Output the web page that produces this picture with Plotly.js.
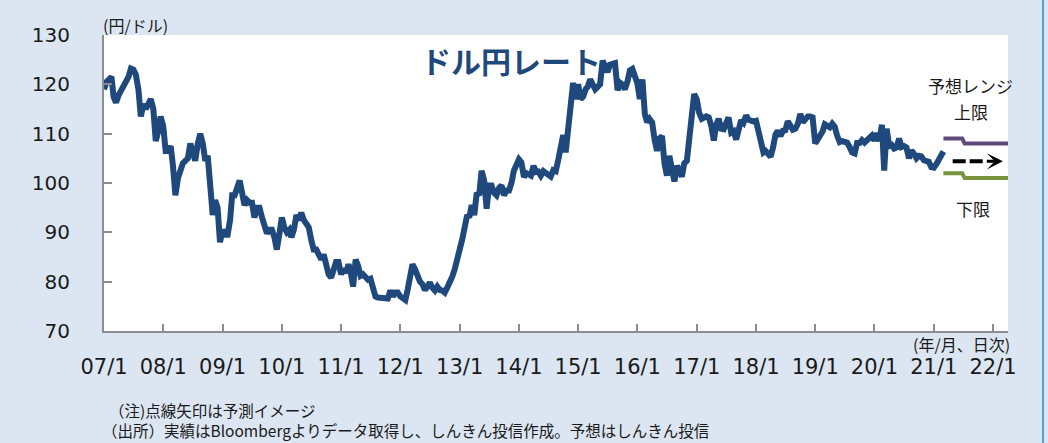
<!DOCTYPE html>
<html>
<head>
<meta charset="utf-8">
<script src="https://cdn.plot.ly/plotly-3.0.1.min.js"></script>
<style>
  html, body { margin: 0; padding: 0; background: #dce6f2; }
  #wrap { width: 1048px; height: 443px; position: relative; background: #dce6f2; }
  #chart { width: 1042px; height: 443px; border-right: 2px solid #4ba3cf; box-sizing: content-box; }
</style>
</head>
<body>
<div id="wrap"><div id="chart"></div></div>
<script>
const fx2007 = [119.0,120.5,121.0,121.5,117.5,116.3,117.8,118.8,119.8,120.5,121.5,123.2,123.0,122.0,119.0,113.5,116.0,115.0,116.0,117.0,115.0,108.5,110.5,113.5];
const fx2008 = [111.5,106.5,106.5,107.5,103.5,97.5,101.0,102.5,104.0,104.5,105.0,108.0,106.0,104.5,108.0,110.0,108.0,104.5,105.5,100.0,93.5,96.5,95.0,88.0];
const fx2009 = [90.5,89.5,89.5,92.5,97.5,97.5,99.0,100.5,98.0,95.5,96.5,96.0,96.0,93.0,95.0,95.0,93.0,91.0,89.8,90.5,90.5,89.0,86.5,89.5];
const fx2010 = [93.0,91.0,90.0,90.5,89.0,90.5,93.5,92.5,94.0,92.5,91.5,91.0,88.5,86.5,86.5,85.5,84.5,85.5,83.5,81.5,80.8,82.5,84.0,84.0];
const fx2011 = [81.5,82.6,81.8,83.5,82.0,79.0,84.5,83.2,81.2,81.5,80.8,80.4,80.6,79.0,77.0,76.8,76.8,76.7,76.8,76.6,78.2,77.0,77.8,77.8];
const fx2012 = [77.0,76.8,76.3,78.5,81.0,83.5,82.5,80.8,80.0,79.5,78.3,79.0,79.8,78.8,78.2,79.0,78.3,78.2,77.8,78.8,79.8,81.0,82.5,84.0];
const fx2013 = [86.5,88.5,91.5,93.5,93.0,95.5,93.5,98.0,97.5,102.5,100.5,94.8,99.5,99.5,98.0,97.5,99.0,99.5,97.5,98.5,98.5,100.0,102.5,103.5];
const fx2014 = [104.8,104.2,101.2,102.0,101.8,101.5,103.5,102.2,102.3,101.5,102.4,102.0,101.5,101.3,102.6,102.4,104.8,107.2,109.7,106.2,112.3,116.5,120.3,117.0];
const fx2015 = [120.0,117.0,117.5,119.0,119.5,121.0,120.0,119.0,119.5,120.0,124.8,123.4,122.5,124.0,124.0,124.3,118.8,120.3,119.9,119.0,120.6,122.8,123.1,121.8];
const fx2016 = [120.2,117.0,121.0,114.0,112.3,113.0,112.3,108.8,106.5,109.0,109.5,104.0,101.5,105.5,102.5,100.3,103.5,102.0,101.3,104.0,104.5,109.0,114.2,118.0];
const fx2017 = [117.0,114.2,113.0,113.3,113.5,113.3,111.5,108.6,111.8,113.0,111.0,110.9,112.5,113.3,110.2,110.5,108.8,111.0,112.7,112.2,113.7,112.8,112.5,112.5];
const fx2018 = [112.6,110.5,109.2,106.2,106.5,105.8,105.3,107.2,109.8,110.6,109.5,110.6,110.7,112.5,111.8,110.8,111.0,112.0,114.0,112.3,112.9,113.5,113.5,113.3];
const fx2019 = [108.0,108.7,109.5,110.5,111.9,111.5,111.3,112.0,111.4,109.6,108.3,108.5,108.4,108.2,107.3,106.2,106.0,108.1,108.1,108.7,108.2,108.7,109.5,109.6];
const fx2020 = [108.6,110.1,108.5,111.8,102.5,111.0,107.5,107.7,107.0,107.2,109.0,107.3,107.5,107.2,105.0,106.6,105.9,105.0,105.5,105.4,104.6,104.6,104.3,103.2];
const fx2021 = [103.1,103.8,104.8,105.5,106.4];

const seriesByYear = [[2007,fx2007],[2008,fx2008],[2009,fx2009],[2010,fx2010],[2011,fx2011],[2012,fx2012],[2013,fx2013],[2014,fx2014],[2015,fx2015],[2016,fx2016],[2017,fx2017],[2018,fx2018],[2019,fx2019],[2020,fx2020],[2021,fx2021]];

// Forecast range (予想レンジ)
const fcDates  = ['2021-03-01','2021-06-25','2021-07-10','2022-04-03'];
const upperVals = [109,109,108,108];
const lowerVals = [102,102,101,101];
const arrowDates = ['2021-04-27','2021-11-14','2022-03-03'];
const arrowVals  = [104.4,104.4,104.4];

// Axis ticks
const tickYears = [2007,2008,2009,2010,2011,2012,2013,2014,2015,2016,2017,2018,2019,2020,2021,2022];
const tickLabels = ['07/1','08/1','09/1','10/1','11/1','12/1','13/1','14/1','15/1','16/1','17/1','18/1','19/1','20/1','21/1','22/1'];

const xs = [], ys = [];
seriesByYear.forEach(([yr, arr]) => {
  arr.forEach((v, i) => {
    const m = Math.floor(i / 2) + 1;
    const d = (i % 2) ? '16' : '01';
    xs.push(yr + '-' + String(m).padStart(2, '0') + '-' + d);
    ys.push(v);
  });
});

const jp = '"Noto Sans CJK JP", "DejaVu Sans", sans-serif';
const num = '"DejaVu Sans", sans-serif';

const traces = [
  { x: xs, y: ys, type: 'scatter', mode: 'lines',
    line: { color: '#1f497d', width: 6 }, hoverinfo: 'skip' },
  { x: fcDates, y: upperVals, type: 'scatter', mode: 'lines',
    line: { color: '#604a7b', width: 4 }, hoverinfo: 'skip' },
  { x: fcDates, y: lowerVals, type: 'scatter', mode: 'lines',
    line: { color: '#77933c', width: 4 }, hoverinfo: 'skip' },
  { x: arrowDates.slice(0, 2), y: arrowVals.slice(0, 2), type: 'scatter', mode: 'lines',
    line: { color: '#000000', width: 4, dash: '13px,4px' }, hoverinfo: 'skip' }
];

const layout = {
  width: 1042, height: 443,
  margin: { l: 104, r: 34, t: 35, b: 112 },
  paper_bgcolor: '#dce6f2',
  plot_bgcolor: '#ffffff',
  showlegend: false,
  xaxis: {
    type: 'date',
    range: ['2007-01-01', '2022-04-03'],
    tickmode: 'array',
    tickvals: tickYears.map(y => y + '-01-01'),
    ticktext: tickLabels,
    ticks: 'inside', ticklen: 7, tickwidth: 2, tickcolor: '#8c8c8c',
    showline: true, linecolor: '#8c8c8c', linewidth: 2,
    showgrid: false, zeroline: false,
    tickfont: { family: num, size: 21, color: '#1a1a1a' },
    ticklabelstandoff: 16
  },
  yaxis: {
    range: [70, 130],
    tickmode: 'array',
    tickvals: [70, 80, 90, 100, 110, 120, 130],
    ticks: 'inside', ticklen: 8, tickwidth: 2, tickcolor: '#8c8c8c',
    showline: true, linecolor: '#8c8c8c', linewidth: 2,
    showgrid: false, zeroline: false,
    tickfont: { family: num, size: 20, color: '#1a1a1a' },
    ticklabelstandoff: 28
  },
  annotations: [
    { text: '<b>ドル円レート</b>', xref: 'paper', yref: 'paper', x: 0.450, y: 0.9155,
      xanchor: 'center', yanchor: 'middle', showarrow: false,
      font: { family: jp, size: 30, color: '#1f497d' } },
    { text: '(円/ドル)', xref: 'paper', yref: 'paper', x: -0.003, y: 1.034,
      xanchor: 'left', yanchor: 'middle', showarrow: false,
      font: { family: jp, size: 16, color: '#1a1a1a' } },
    { text: '(年/月、日次)', xref: 'paper', yref: 'paper', x: 1.0044, y: -0.0456,
      xanchor: 'right', yanchor: 'middle', showarrow: false,
      font: { family: jp, size: 16, color: '#1a1a1a' } },
    { text: '予想レンジ', xref: 'paper', yref: 'paper', x: (970 - 104) / 904, y: (331 - 86) / 296,
      xanchor: 'center', yanchor: 'middle', showarrow: false,
      font: { family: jp, size: 17, color: '#1a1a1a' } },
    { text: '上限', xref: 'paper', yref: 'paper', x: (971 - 104) / 904, y: (331 - 112) / 296,
      xanchor: 'center', yanchor: 'middle', showarrow: false,
      font: { family: jp, size: 17, color: '#1a1a1a' } },
    { text: '下限', xref: 'paper', yref: 'paper', x: (973 - 104) / 904, y: (331 - 208) / 296,
      xanchor: 'center', yanchor: 'middle', showarrow: false,
      font: { family: jp, size: 17, color: '#1a1a1a' } },
    { text: '', x: arrowDates[2], y: arrowVals[2], xref: 'x', yref: 'y',
      ax: arrowDates[1], ay: arrowVals[1], axref: 'x', ayref: 'y',
      showarrow: true, arrowhead: 3, arrowsize: 0.9, arrowwidth: 3, arrowcolor: '#000000' },
    { text: '（注)点線矢印は予測イメージ', xref: 'paper', yref: 'paper', x: (107 - 104) / 904, y: (331 - 410) / 296,
      xanchor: 'left', yanchor: 'middle', showarrow: false,
      font: { family: jp, size: 15.5, color: '#1a1a1a' } },
    { text: '（出所）実績はBloombergよりデータ取得し、しんきん投信作成。予想はしんきん投信', xref: 'paper', yref: 'paper',
      x: (100 - 104) / 904, y: (331 - 430) / 296,
      xanchor: 'left', yanchor: 'middle', showarrow: false,
      font: { family: jp, size: 15.5, color: '#1a1a1a' } }
  ]
};

Plotly.newPlot('chart', traces, layout, { staticPlot: true, displayModeBar: false });
</script>
</body>
</html>
